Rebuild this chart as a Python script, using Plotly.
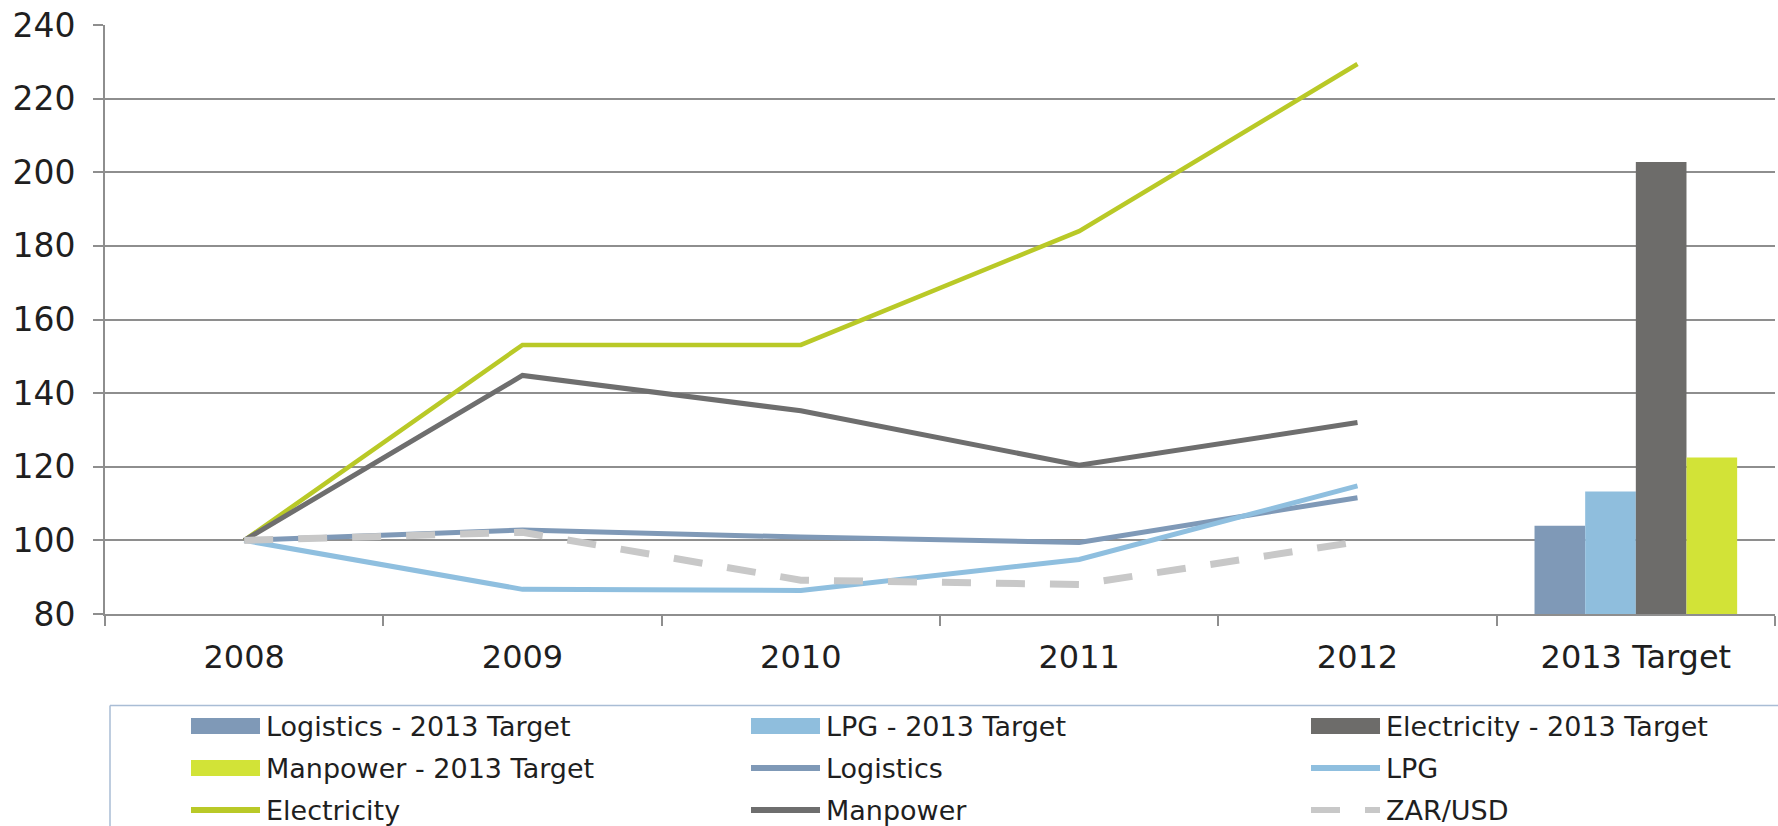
import plotly.graph_objects as go

# Index values (2008 = 100)
years = ["2008", "2009", "2010", "2011", "2012"]
target_cat = ["2013 Target"]
categories = years + target_cat

logistics = [100, 102.8, 100.9, 99.4, 111.6]
lpg = [100, 86.7, 86.4, 94.8, 114.8]
electricity = [100, 153.1, 153.1, 184.0, 229.4]
manpower = [100, 144.8, 135.2, 120.4, 132.0]
zar_usd = [100, 102.2, 89.2, 88.0, 99.6]

target_names = ["Logistics - 2013 Target", "LPG - 2013 Target",
                "Electricity - 2013 Target", "Manpower - 2013 Target"]
target_values = [104.0, 113.3, 202.8, 122.5]
target_colors = ["#7f99b7", "#8fbedd", "#6d6c6a", "#d2e337"]

line_names = ["Logistics", "LPG", "Electricity", "Manpower", "ZAR/USD"]
line_values = [logistics, lpg, electricity, manpower, zar_usd]
line_colors = ["#7f99b7", "#8fbfdf", "#b9c927", "#6e6e6e", "#c8c8c8"]
line_widths = [5, 5, 4.5, 5, 7]
line_dashes = ["solid", "solid", "solid", "solid", "29px,25px"]

FONT = "DejaVu Sans"
TEXT = "#1f1f1f"
GRID = "#8e8e8e"

W, H = 1778, 826
ML, MR, MT, MB = 105, 3, 25, 212

fig = go.Figure()

for name, val, col in zip(target_names, target_values, target_colors):
    fig.add_trace(go.Bar(x=target_cat, y=[val], name=name, marker_color=col,
                         marker_line_width=0, showlegend=False))

for name, vals, col, w, d in zip(line_names, line_values, line_colors, line_widths, line_dashes):
    fig.add_trace(go.Scatter(x=years, y=vals, name=name, mode="lines",
                             line=dict(color=col, width=w, dash=d), showlegend=False))

# ---- legend drawn as shapes + text in a 3-column grid ----
plot_w = W - ML - MR
plot_h = H - MT - MB


def px(x):
    return (x - ML) / plot_w


def py(y):
    return (H - MB - y) / plot_h


legend_items = [
    ("bar", target_names[0], target_colors[0], None),
    ("bar", target_names[1], target_colors[1], None),
    ("bar", target_names[2], target_colors[2], None),
    ("bar", target_names[3], target_colors[3], None),
    ("line", line_names[0], line_colors[0], "solid"),
    ("line", line_names[1], line_colors[1], "solid"),
    ("line", line_names[2], line_colors[2], "solid"),
    ("line", line_names[3], line_colors[3], "solid"),
    ("line", line_names[4], line_colors[4], "29px,25px"),
]
col_x = [191, 751, 1311]
row_y = [726, 768, 810]
sym_w = 69

shapes = []
annotations = []
# legend frame (top and left edges visible)
frame_col = "#a9bdd5"
shapes.append(dict(type="line", xref="paper", yref="paper", x0=px(110), x1=px(W + 20),
                   y0=py(705.5), y1=py(705.5), line=dict(color=frame_col, width=1.5)))
shapes.append(dict(type="line", xref="paper", yref="paper", x0=px(110), x1=px(110),
                   y0=py(705.5), y1=py(H + 20), line=dict(color=frame_col, width=1.5)))

for i, (kind, label, col, dash) in enumerate(legend_items):
    cx = col_x[i % 3]
    cy = row_y[i // 3]
    if kind == "bar":
        shapes.append(dict(type="rect", xref="paper", yref="paper",
                           x0=px(cx), x1=px(cx + sym_w), y0=py(cy + 8), y1=py(cy - 8),
                           fillcolor=col, line=dict(width=0)))
    else:
        shapes.append(dict(type="line", xref="paper", yref="paper",
                           x0=px(cx), x1=px(cx + sym_w), y0=py(cy), y1=py(cy),
                           line=dict(color=col, width=6, dash=dash)))
    annotations.append(dict(text=label, xref="paper", yref="paper",
                            x=px(cx + sym_w + 4), y=py(cy), xanchor="left", yanchor="middle",
                            showarrow=False, font=dict(family=FONT, size=27, color=TEXT)))

fig.update_layout(
    width=W, height=H,
    margin=dict(l=ML, r=MR, t=MT, b=MB, pad=0),
    paper_bgcolor="white", plot_bgcolor="white",
    barmode="group", bargap=0.272, bargroupgap=0,
    font=dict(family=FONT, color=TEXT),
    showlegend=False,
    shapes=shapes,
    annotations=annotations,
)

fig.update_xaxes(
    type="category", categoryorder="array", categoryarray=categories,
    range=[-0.5, len(categories) - 0.5],
    showgrid=False, showline=True, linecolor=GRID, linewidth=2,
    ticks="outside", tickson="boundaries", ticklen=10, tickwidth=2, tickcolor=GRID,
    tickfont=dict(family=FONT, size=32, color=TEXT), ticklabelstandoff=14,
)
fig.update_yaxes(
    range=[80, 240], dtick=20, tick0=80,
    showgrid=True, gridcolor=GRID, gridwidth=2,
    showline=True, linecolor=GRID, linewidth=2,
    ticks="outside", ticklen=10, tickwidth=2, tickcolor=GRID,
    tickfont=dict(family=FONT, size=33, color=TEXT), ticklabelstandoff=11,
    zeroline=False,
)

fig.write_html("out.html")
